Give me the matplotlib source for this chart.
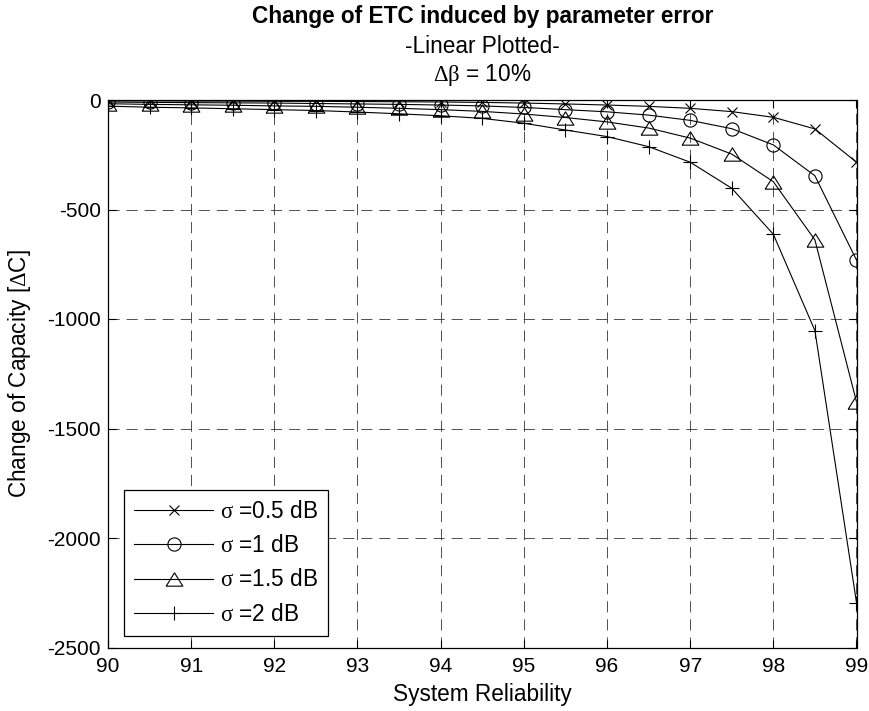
import matplotlib
matplotlib.use("Agg")
import matplotlib.pyplot as plt

plt.rcParams['font.family'] = ['Liberation Sans', 'DejaVu Sans']
plt.rcParams['mathtext.fontset'] = 'custom'
plt.rcParams['mathtext.rm'] = 'Liberation Serif'
plt.rcParams['mathtext.it'] = 'Liberation Serif:italic'
plt.rcParams['mathtext.bf'] = 'Liberation Serif:bold'
plt.rcParams['lines.scale_dashes'] = False

# ---- data ----
reliability = [90, 90.5, 91, 91.5, 92, 92.5, 93, 93.5, 94, 94.5,
               95, 95.5, 96, 96.5, 97, 97.5, 98, 98.5, 99]
dc_sigma_05 = [-4, -4, -5, -5, -6, -6, -7, -8, -9, -11,
               -14, -18, -23, -29, -38, -53, -79, -132, -284]
dc_sigma_1 = [-9, -11, -12, -13, -14, -16, -18, -20, -23, -27,
              -34, -44, -54, -69, -93, -131, -205, -346, -731]
dc_sigma_15 = [-17, -20, -22, -24, -27, -29, -33, -38, -44, -52,
               -64, -80, -100, -128, -174, -247, -373, -639, -1378]
dc_sigma_2 = [-28, -33, -36, -40, -44, -48, -55, -63, -72, -84,
              -106, -137, -167, -213, -284, -403, -613, -1053, -2295]
labels = [r'$\mathrm{\sigma}$ =0.5 dB', r'$\mathrm{\sigma}$ =1 dB',
          r'$\mathrm{\sigma}$ =1.5 dB', r'$\mathrm{\sigma}$ =2 dB']
xticks = [90, 91, 92, 93, 94, 95, 96, 97, 98, 99]
yticks = [0, -500, -1000, -1500, -2000, -2500]

W, H = 869, 711
FS = 16.3
fig = plt.figure(figsize=(W / 100, H / 100), dpi=100)
ax = fig.add_axes([108 / W, 1 - 647.5 / H, (856.5 - 108) / W, (647.5 - 100) / H])

tri = [(-1, -0.8), (1, -0.8), (0, 0.8), (-1, -0.8)]
series = [dc_sigma_05, dc_sigma_1, dc_sigma_15, dc_sigma_2]
markers = ['x', 'o', tri, '+']
msizes = [6.5, 9.5, 12, 10.5]
for s, m, ms, lab in zip(series, markers, msizes, labels):
    ax.plot(reliability, s, color='black', lw=0.8, marker=m, ms=ms,
            markerfacecolor='none', markeredgecolor='black', markeredgewidth=0.8,
            label=lab)

ax.set_xlim(90, 99)
ax.set_ylim(-2500, 0)
ax.set_xticks(xticks)
ax.set_yticks(yticks)
ax.set_xticklabels([str(t) for t in xticks])
ax.set_yticklabels([str(t) for t in yticks])
ax.tick_params(direction='in', top=True, right=True, length=6, width=0.8,
               labelsize=15)
ax.tick_params(axis='x', pad=7)
ax.tick_params(axis='y', pad=5)
for sp in ax.spines.values():
    sp.set_linewidth(0.9)
ax.grid(True, color='#333333', lw=0.6, linestyle=(0, (8, 5)))

ax.set_xlabel('System Reliability', fontsize=FS)
ax.xaxis.label.set_verticalalignment('center')
ax.xaxis.set_label_coords(0.5, (647.5 - 695) / 547.5)
ax.set_ylabel(r'Change of Capacity [$\mathrm{\Delta}$C]', fontsize=FS)
ax.yaxis.label.set_verticalalignment('center')
ax.yaxis.set_label_coords((20 - 108) / 748.5, 0.5)

leg = ax.legend(loc='lower left', bbox_to_anchor=((124 - 108) / 748.5, (647.5 - 636) / 547.5),
                borderaxespad=0, fontsize=FS, handlelength=3.5, handletextpad=0.3,
                labelspacing=0.5, borderpad=0.45, fancybox=False, framealpha=1,
                edgecolor='black')
leg.get_frame().set_linewidth(0.9)

cx = (108 + 856.5) / 2 / W
fig.text(cx, 1 - 16.7 / H, 'Change of ETC induced by parameter error',
         ha='center', va='center', fontsize=FS, fontweight='bold')
fig.text(cx, 1 - 46.7 / H, '-Linear Plotted-', ha='center', va='center', fontsize=FS)
fig.text(cx, 1 - 75 / H, r'$\mathrm{\Delta\beta}$ = 10%', ha='center', va='center', fontsize=FS)

fig.savefig('out.png', dpi=100)
